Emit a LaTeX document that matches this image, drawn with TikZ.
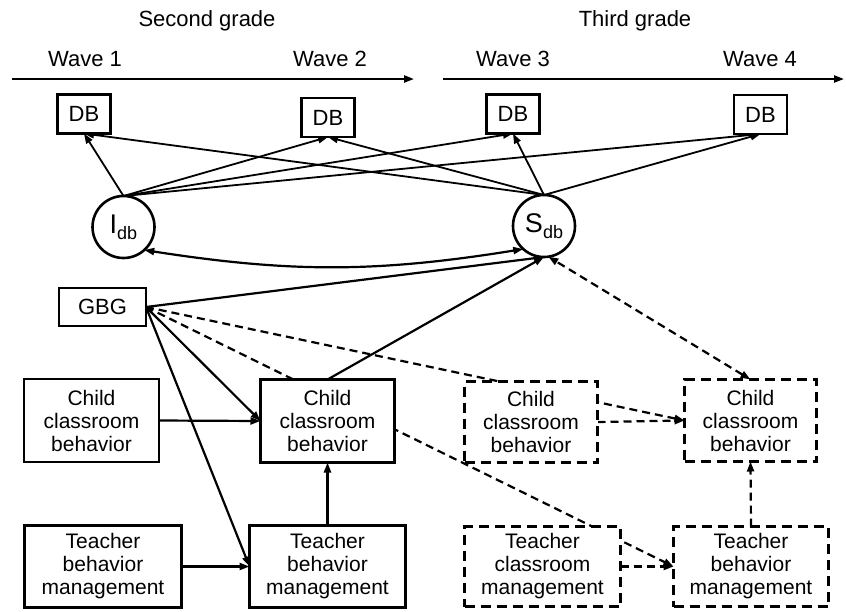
\documentclass[tikz,border=0pt]{standalone}
\usepackage{fontspec}
\setmainfont{Liberation Sans}
\usetikzlibrary{arrows.meta}
\pgfdeclarelayer{bg}
\pgfsetlayers{bg,main}
\begin{document}
\begin{tikzpicture}[x=1pt,y=-1pt,
  >={Triangle[length=10pt,width=7pt]},
  every node/.style={inner sep=0pt, outer sep=0pt},
  lbl/.style={font=\fontsize{22}{24}\selectfont},
  dbbox/.style={draw, fill=white, line width=2.4pt, minimum width=53pt, minimum height=39pt, font=\fontsize{22}{24}\selectfont},
  latent/.style={draw, fill=white, circle, line width=2.6pt, minimum size=62pt, font=\fontsize{27}{28}\selectfont},
  box/.style={draw, fill=white, align=center, font=\fontsize{21}{23}\selectfont, line width=2.6pt},
  tbox/.style={box, line width=3.4pt},
  dbox/.style={box, line width=3.2pt, dash pattern=on 10pt off 6pt},
  tline/.style={line width=2.2pt, -{Triangle[length=10pt,width=7pt]}},
  fconn/.style={line width=1.8pt, ->},
  conn/.style={line width=2.2pt, ->},
  dconn/.style={line width=2.2pt, ->, dash pattern=on 8pt off 5pt}
]
\useasboundingbox (0,0) rectangle (846,611);

% titles
\node[lbl] (sg) at (207,21) {Second grade};
\node[lbl] (tg) at (635,21) {Third grade};
\node[lbl] (w1) at (85,59) {Wave 1};
\node[lbl] (w2) at (330,59) {Wave 2};
\node[lbl] (w3) at (513,59) {Wave 3};
\node[lbl] (w4) at (760,59) {Wave 4};

\coordinate (t1s) at (12,79);
\coordinate (t1e) at (414,79);
\coordinate (t2s) at (443,79);
\coordinate (t2e) at (844,79);
\draw[tline] (t1s) -- (t1e);
\draw[tline] (t2s) -- (t2e);

% DB boxes
\node[dbbox] (db1) at (84,114) {DB};
\node[dbbox] (db2) at (328,117.5) {DB};
\node[dbbox] (db3) at (513,114) {DB};
\node[dbbox] (db4) at (760.5,114.5) {DB};

% latent
\node[latent] (I) at (123.5,227) {I\raisebox{-6pt}{\fontsize{18}{18}\selectfont db}};
\node[latent] (S) at (544,226) {S\raisebox{-6pt}{\fontsize{18}{18}\selectfont db}};

% GBG
\node[box, minimum width=87pt, minimum height=38pt, font=\fontsize{22}{24}\selectfont] (gbg) at (102.5,307) {GBG};

% second grade boxes
\node[box, minimum width=135pt, minimum height=83pt] (A) at (91.5,420.5) {Child\\classroom\\behavior};
\node[tbox, minimum width=134pt, minimum height=83pt] (B) at (327.5,421) {Child\\classroom\\behavior};
\node[box, line width=3pt, minimum width=157pt, minimum height=82pt] (C) at (103,566.5) {Teacher\\behavior\\management};
\node[tbox, minimum width=156pt, minimum height=82pt] (D) at (327.5,566.5) {Teacher\\behavior\\management};

% third grade boxes
\node[dbox, minimum width=133pt, minimum height=81pt] (E) at (531,422) {Child\\classroom\\behavior};
\node[dbox, minimum width=132pt, minimum height=82pt] (F) at (750.5,420.5) {Child\\classroom\\behavior};
\node[dbox, minimum width=156pt, minimum height=80pt] (G) at (542.5,566.5) {Teacher\\classroom\\management};
\node[dbox, minimum width=155pt, minimum height=80pt] (H) at (751,566.5) {Teacher\\behavior\\management};

\begin{pgfonlayer}{bg}
  \foreach \d in {db1,db2,db3,db4} {
    \draw[fconn] (I.north) -- (\d.south);
    \draw[fconn] (S.north) -- (\d.south);
  }
  \draw[conn, <->] (I.-48) to[bend right=9] (S.-132);
  \draw[conn] (gbg.east) -- (S.south);
  \draw[conn] (B.north) -- (S.south);
  \draw[conn] (gbg.east) -- (B.west);
  \draw[conn] (gbg.east) -- (D.west);
  \draw[conn] (A.east) -- (B.west);
  \draw[conn] (C.east) -- (D.west);
  \draw[conn] (D.north) -- (B.south);
  \draw[dconn] (gbg.east) -- (F.west);
  \draw[dconn] (gbg.east) -- (H.west);
  \draw[dconn] (E.east) -- (F.west);
  \draw[dconn] (G.east) -- (H.west);
  \draw[dconn] (H.north) -- (F.south);
  \draw[dconn, <->] (F.north) -- (S.-82);
\end{pgfonlayer}
\end{tikzpicture}
\end{document}
